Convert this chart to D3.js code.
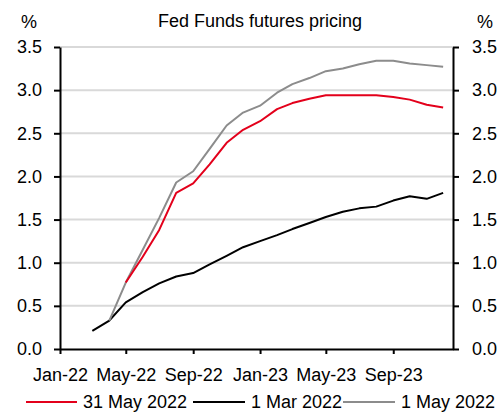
<!DOCTYPE html>
<html>
<head>
<meta charset="utf-8">
<script src="https://cdn.jsdelivr.net/npm/d3@7"></script>
<style>
  html, body { margin: 0; padding: 0; background: #fff; }
  svg { display: block; font-family: "Liberation Sans", Arial, sans-serif; }
</style>
</head>
<body>
<svg id="chart" width="500" height="412"></svg>
<script>
// ---- data ----
const months = ["2022-03","2022-04","2022-05","2022-06","2022-07","2022-08","2022-09","2022-10","2022-11","2022-12",
                "2023-01","2023-02","2023-03","2023-04","2023-05","2023-06","2023-07","2023-08","2023-09","2023-10","2023-11","2023-12"];
const seriesNames = ["31 May 2022", "1 Mar 2022", "1 May 2022"];
const seriesColors = ["#e3001b", "#000000", "#8c8c8c"];
const may31 = [null, null, 0.77, 1.07, 1.38, 1.81, 1.92, 2.14, 2.39, 2.54, 2.64, 2.78, 2.85, 2.90, 2.94, 2.94, 2.94, 2.94, 2.92, 2.89, 2.83, 2.80];
const mar1  = [0.21, 0.33, 0.54, 0.66, 0.76, 0.84, 0.88, 0.98, 1.08, 1.18, 1.25, 1.32, 1.39, 1.46, 1.53, 1.59, 1.63, 1.65, 1.72, 1.77, 1.74, 1.81];
const may1  = [null, 0.33, 0.77, 1.15, 1.52, 1.93, 2.06, 2.32, 2.59, 2.74, 2.82, 2.97, 3.07, 3.14, 3.22, 3.25, 3.30, 3.34, 3.34, 3.31, 3.29, 3.27];
const yTicks = [0, 0.5, 1.0, 1.5, 2.0, 2.5, 3.0, 3.5];
const xTickDates = ["2022-01","2022-05","2022-09","2023-01","2023-05","2023-09"];
const title = "Fed Funds futures pricing";
const unit = "%";

// ---- layout ----
(function () {
const svg = d3.select("#chart");
const pl = 60, pr = 453, pt = 47, pb = 349;
const parse = d3.utcParse("%Y-%m");
const x = d3.scaleUtc().domain([parse("2022-01"), new Date(Date.UTC(2023, 11, 19))]).range([pl, pr]);
const y = d3.scaleLinear().domain([0, 3.5]).range([pb, pt]);
const fs = 18;

// gridlines
svg.append("g").selectAll("line").data(yTicks.filter(d => d > 0)).join("line")
  .attr("x1", pl).attr("x2", pr)
  .attr("y1", d => y(d)).attr("y2", d => y(d))
  .attr("stroke", "#d9d9d9").attr("stroke-width", 2);

// lines
const series = [mar1, may1, may31];
const cols = [seriesColors[1], seriesColors[2], seriesColors[0]];
const line = d3.line().defined(d => d.v != null).x(d => x(d.t)).y(d => y(d.v));
series.forEach((s, i) => {
  const pts = months.map((m, j) => ({t: parse(m), v: s[j]}));
  svg.append("path").datum(pts).attr("d", line)
    .attr("fill", "none").attr("stroke", cols[i]).attr("stroke-width", 2)
    .attr("stroke-linejoin", "round");
});

// axes
const styleAxis = g => {
  g.select(".domain").attr("stroke", "#000").attr("stroke-width", 2);
  g.selectAll(".tick line").attr("stroke", "#000").attr("stroke-width", 2);
  g.selectAll("text").attr("font-size", fs).attr("fill", "#000")
    .attr("font-family", "'Liberation Sans', Arial, sans-serif");
};
const fmt = d3.format(".1f");
svg.append("g").attr("transform", `translate(${pl},0)`)
  .call(d3.axisLeft(y).tickValues(yTicks).tickFormat(fmt).tickSize(6).tickPadding(12).tickSizeOuter(0))
  .call(styleAxis);
svg.append("g").attr("transform", `translate(${pr},0)`)
  .call(d3.axisRight(y).tickValues(yTicks).tickFormat(fmt).tickSize(6).tickPadding(13).tickSizeOuter(0))
  .call(styleAxis);
svg.append("g").attr("transform", `translate(0,${pb})`)
  .call(d3.axisBottom(x).tickValues(xTickDates.map(parse)).tickFormat(d3.utcFormat("%b-%y")).tickSize(5).tickPadding(14).tickSizeOuter(0))
  .call(styleAxis);

// title and units
svg.append("text").attr("x", 260).attr("y", 27).attr("text-anchor", "middle")
  .attr("font-size", fs).text(title);
svg.append("text").attr("x", 29).attr("y", 28).attr("text-anchor", "middle").attr("font-size", fs).text(unit);
svg.append("text").attr("x", 485).attr("y", 28).attr("text-anchor", "middle").attr("font-size", fs).text(unit);

// legend
const legendX = [26, 193, 343];
const legendW = [51, 52, 52];
seriesNames.forEach((n, i) => {
  svg.append("line").attr("x1", legendX[i]).attr("x2", legendX[i] + legendW[i])
    .attr("y1", 402).attr("y2", 402).attr("stroke", seriesColors[i]).attr("stroke-width", 2);
  svg.append("text").attr("x", legendX[i] + legendW[i] + 6).attr("y", 407.5)
    .attr("font-size", fs).text(n);
});
})();
</script>
</body>
</html>
